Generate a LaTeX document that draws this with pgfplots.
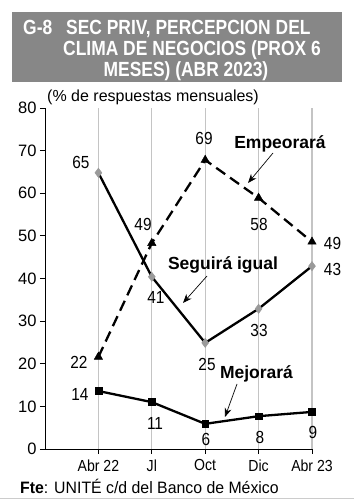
\documentclass[border=0pt]{standalone}
\usepackage{pgfplots}
\pgfplotsset{compat=1.18}
\usepackage{fontspec}
\usetikzlibrary{arrows.meta}
\setmainfont{Liberation Sans}
\newfontfamily\narrowfont{Liberation Sans}[FakeStretch=0.88]
\newfontfamily\titlefont{Liberation Sans}[FakeStretch=0.85]
\newfontfamily\srcfont{Liberation Sans}[FakeStretch=0.96]
\definecolor{titlegray}{HTML}{878787}
\definecolor{gridgray}{HTML}{C4C4C4}
\definecolor{diagray}{HTML}{9A9A9A}
\begin{document}
\begin{tikzpicture}
\path[use as bounding box] (0pt,0pt) rectangle (354pt,500pt);
\begin{axis}[
  at={(45pt,51pt)}, anchor=south west,
  scale only axis, width=267pt, height=341pt,
  xmin=-1, xmax=4, ymin=0, ymax=80,
  xtick={0,1,2,3,4}, xticklabels={Abr 22, Jl, Oct, Dic, Abr 23},
  ytick={0,10,...,80},
  axis lines=left, axis line style={-, black, line width=0.9pt},
  tick style={black, line width=0.8pt},
  tick align=outside, major tick length=5pt,
  xmajorgrids, grid style={gridgray, line width=1.1pt},
  clip=false,
  /pgf/number format/assume math mode=true,
  xticklabel style={font=\narrowfont\fontsize{16}{16}\selectfont, yshift=-2pt},
  yticklabel style={font=\fontsize{16.5}{16.5}\selectfont},
]
\addplot[black, line width=2.3pt, dash pattern=on 11pt off 6pt, mark=triangle*, mark size=4.8pt, mark options={solid, fill=black, line width=0.5pt}]
  coordinates {(0,21.6)(1,48.3)(2,67.8)(3,58.9)(4,48.6)};
\addplot[black, line width=2.3pt, mark=diamond*, mark size=4.6pt, mark options={fill=diagray, draw=diagray, line width=0.5pt}]
  coordinates {(0,64.8)(1,40.4)(2,24.9)(3,32.9)(4,42.9)};
\addplot[black, line width=2.3pt, mark=square*, mark size=3.4pt, mark options={fill=black, line width=0.5pt}]
  coordinates {(0,13.6)(1,11.0)(2,5.9)(3,7.7)(4,8.7)};
\end{axis}
\begin{scope}[x=1pt,y=1pt]
% title
\fill[titlegray] (12,418) rectangle (342,488);
\begin{scope}[every node/.style={text=white, font=\titlefont\bfseries\fontsize{20.5}{20.5}\selectfont, inner sep=0pt}]
\node[anchor=base west] at (23,465) {G-8};
\node[anchor=base west] at (66,465) {SEC PRIV, PERCEPCION DEL};
\node[anchor=base] at (192,444) {CLIMA DE NEGOCIOS (PROX 6};
\node[anchor=base] at (186,423) {MESES) (ABR 2023)};
\end{scope}
\node[anchor=base west, inner sep=0pt, font=\fontsize{16}{16}\selectfont] at (47,398) {(\% de respuestas mensuales)};
\node[anchor=base west, inner sep=0pt, font=\srcfont\fontsize{16.5}{16.5}\selectfont] at (20,6) {\textbf{Fte}: UNITÉ c/d del Banco de México};
\draw[gray!40, line width=1pt] (0,1) -- (354,1);
% data labels
\begin{scope}[every node/.style={font=\narrowfont\fontsize{17.5}{17.5}\selectfont, inner sep=0pt}]
\node at (81,338) {65};
\node at (156,203) {41};
\node at (207,136) {25};
\node at (259,170) {33};
\node at (332.5,231) {43};
\node at (79,138) {22};
\node at (143,276) {49};
\node at (204,362) {69};
\node at (259,276) {58};
\node at (332.5,257) {49};
\node at (80,106) {14};
\node at (155,77) {11};
\node at (206,61) {6};
\node at (260,63) {8};
\node at (313,68) {9};
\end{scope}
% series annotations
\begin{scope}[every node/.style={font=\bfseries\fontsize{17.5}{17.5}\selectfont, inner sep=0pt}]
\node[anchor=base] at (280,351) {Empeorará};
\node[anchor=base] at (223,230) {Seguirá igual};
\node[anchor=base] at (256.5,121) {Mejorará};
\end{scope}
\begin{scope}[line width=0.7pt, -{Stealth[length=9pt,width=7pt]}]
\draw (273,347) -- (248,317);
\draw (207,224) -- (183,197);
\draw (237,116) -- (225,83);
\end{scope}
\end{scope}
\end{tikzpicture}
\end{document}
